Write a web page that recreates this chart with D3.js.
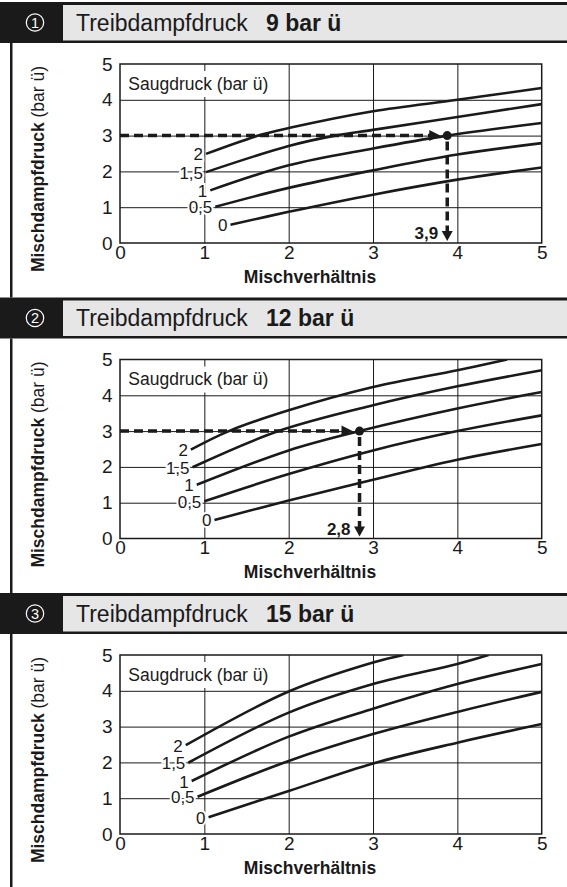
<!DOCTYPE html>
<html>
<head>
<meta charset="utf-8">
<script src="https://cdn.jsdelivr.net/npm/d3@7"></script>
<style>
  body { margin: 0; background: #fff; }
  svg { display: block; font-family: "Liberation Sans", Arial, sans-serif; }
</style>
</head>
<body>
<div id="chart"></div>
<script>
var width = 567,
    height = 887

// data
var xTicks = [0, 1, 2, 3, 4, 5]
var yTicks = [0, 1, 2, 3, 4, 5]
var panelNumbers = ['1', '2', '3']
var motivePressures = ['9 bar ü', '12 bar ü', '15 bar ü']
var suctionLabels = ['2', '1,5', '1', '0,5', '0']

// [Mischverhältnis, Mischdampfdruck] per Saugdruck curve
var curves9 = [
    [[1.02, 2.49], [1.64, 3.0], [2, 3.21], [3, 3.68], [4, 4.0], [5, 4.33]],
    [[1.02, 1.98], [2, 2.71], [2.55, 3.0], [3, 3.16], [4, 3.52], [5, 3.88]],
    [[1.07, 1.47], [2, 2.17], [3, 2.64], [3.88, 3.0], [5, 3.35]],
    [[1.13, 1.01], [2, 1.54], [3, 2.03], [4, 2.47], [5, 2.79]],
    [[1.31, 0.51], [2, 0.87], [3, 1.35], [4, 1.77], [5, 2.11]]
]
var curves12 = [
    [[0.84, 2.48], [1.29, 3.0], [2, 3.58], [3, 4.23], [4, 4.7], [4.59, 5.0]],
    [[0.86, 1.99], [1.88, 3.0], [3, 3.72], [4, 4.25], [5, 4.7]],
    [[0.91, 1.5], [2, 2.46], [2.84, 3.0], [4, 3.63], [5, 4.09]],
    [[1.0, 1.04], [2, 1.8], [3, 2.46], [4, 3.0], [5, 3.44]],
    [[1.12, 0.52], [2, 1.06], [3, 1.64], [4, 2.2], [5, 2.64]]
]
var curves15 = [
    [[0.78, 2.48], [2, 3.98], [3, 4.79], [3.36, 5.0]],
    [[0.81, 1.99], [2, 3.39], [3, 4.19], [4, 4.75], [4.37, 5.0]],
    [[0.85, 1.48], [2, 2.72], [3, 3.5], [4, 4.19], [5, 4.75]],
    [[0.92, 1.04], [2, 2.04], [3, 2.79], [4, 3.41], [5, 3.97]],
    [[1.05, 0.47], [2, 1.2], [3, 1.97], [4, 2.55], [5, 3.07]]
]
var panelCurves = [curves9, curves12, curves15]

// operating point examples (dashed arrows)
var opX = [3.88, 2.84, null]
var opY = [3, 3, null]
var opLabels = ['3,9', '2,8', null]

var svg = d3.select('#chart').append('svg')
    .attr('width', width)
    .attr('height', height)

var plotLeft = 120,
    plotRight = 541.7,
    plotH = 179,
    panelStep = 295.5

var x = d3.scaleLinear().domain([0, 5]).range([plotLeft, plotRight])

var line = d3.line()
    .x(d => x(d[0]))
    .curve(d3.curveCatmullRom.alpha(0.5))

panelNumbers.forEach(function (num, i) {
    var top = 64 + i * panelStep,
        bottom = top + plotH,
        hTop = top - 62

    var y = d3.scaleLinear().domain([0, 5]).range([bottom, top])
    line.y(d => y(d[1]))

    // header bar
    svg.append('rect')
        .attr('x', 0).attr('y', hTop)
        .attr('width', width).attr('height', 41)
        .style('fill', '#1a1a1a')
    svg.append('rect')
        .attr('x', 63).attr('y', hTop + 3)
        .attr('width', width).attr('height', 35.5)
        .style('fill', '#e6e6e6')
    svg.append('circle')
        .attr('cx', 35).attr('cy', top - 41.5).attr('r', 8.7)
        .style('fill', 'none').style('stroke', '#fff').style('stroke-width', 1.2)
    svg.append('text')
        .attr('x', 35).attr('y', top - 41.5).attr('dy', '0.36em')
        .attr('text-anchor', 'middle')
        .style('fill', '#fff').style('font-size', '14.5px')
        .text(num)
    var title = svg.append('text')
        .attr('y', top - 33.5)
        .style('font-size', '23px').style('fill', '#1a1a1a')
    title.append('tspan').attr('x', 76).text('Treibdampfdruck')
    title.append('tspan').attr('x', 266).style('font-weight', 'bold').text(motivePressures[i])

    // left border of the panel body
    var nextTop = i < 2 ? 64 + (i + 1) * panelStep - 62 : height
    svg.append('line')
        .attr('x1', 11.25).attr('x2', 11.25)
        .attr('y1', hTop + 41).attr('y2', nextTop)
        .style('stroke', '#1a1a1a').style('stroke-width', 2.5)

    var g = svg.append('g')

    // grid
    g.append('g')
        .attr('transform', `translate(0, ${bottom})`)
        .call(d3.axisBottom(x).tickValues([1, 2, 3, 4]).tickSize(-plotH).tickFormat(''))
        .call(s => s.select('.domain').remove())
        .selectAll('line').style('stroke', '#1a1a1a').style('stroke-width', 1)
    g.append('g')
        .attr('transform', `translate(${plotLeft}, 0)`)
        .call(d3.axisLeft(y).tickValues([1, 2, 3, 4]).tickSize(-(plotRight - plotLeft)).tickFormat(''))
        .call(s => s.select('.domain').remove())
        .selectAll('line').style('stroke', '#1a1a1a').style('stroke-width', 1)

    g.append('rect')
        .attr('x', plotLeft).attr('y', top)
        .attr('width', plotRight - plotLeft).attr('height', plotH)
        .style('fill', 'none').style('stroke', '#1a1a1a').style('stroke-width', 1.5)

    // tick labels
    var axB = g.append('g')
        .attr('transform', `translate(0, ${bottom})`)
        .call(d3.axisBottom(x).tickValues(xTicks).tickSize(0).tickPadding(2).tickFormat(d3.format('d')))
    var axL = g.append('g')
        .attr('transform', `translate(${plotLeft}, 0)`)
        .call(d3.axisLeft(y).tickValues(yTicks).tickSize(0).tickPadding(7.5).tickFormat(d3.format('d')))
    ;[axB, axL].forEach(function (a) {
        a.select('.domain').remove()
        a.selectAll('text')
            .style('font-size', '19px')
            .style('font-family', '"Liberation Sans", Arial, sans-serif')
            .style('fill', '#1a1a1a')
    })

    // legend box
    g.append('rect')
        .attr('x', plotLeft + 1).attr('y', top + 7)
        .attr('width', 158).attr('height', 26)
        .style('fill', '#fff')
    g.append('text')
        .attr('x', 128.3).attr('y', top + 25.7)
        .style('font-size', '17.5px').style('fill', '#1a1a1a')
        .text('Saugdruck (bar ü)')

    // curves
    var clipId = 'clip' + i
    svg.append('clipPath').attr('id', clipId)
        .append('rect')
        .attr('x', plotLeft).attr('y', top)
        .attr('width', plotRight - plotLeft).attr('height', plotH)

    g.append('g').attr('clip-path', `url(#${clipId})`)
        .selectAll('path')
        .data(panelCurves[i])
        .enter().append('path')
        .attr('d', line)
        .style('fill', 'none')
        .style('stroke', '#1a1a1a')
        .style('stroke-width', 2.6)

    g.selectAll('.clabel')
        .data(panelCurves[i])
        .enter().append('text')
        .attr('class', 'clabel')
        .attr('x', d => x(d[0][0]) - 3)
        .attr('y', d => y(d[0][1]) + 6.5)
        .attr('text-anchor', 'end')
        .style('font-size', '17px')
        .style('fill', '#1a1a1a')
        .style('stroke', '#fff').style('stroke-width', 4)
        .style('paint-order', 'stroke')
        .text((d, k) => suctionLabels[k])

    // operating point
    if (opX[i] !== null) {
        var px = x(opX[i]),
            py = y(opY[i])
        var tipX = px - 7,
            tipY = bottom - 2
        g.append('line')
            .attr('x1', plotLeft).attr('x2', tipX - 10)
            .attr('y1', py).attr('y2', py)
            .style('stroke', '#1a1a1a').style('stroke-width', 3.5)
            .style('stroke-dasharray', '9,5')
        g.append('path')
            .attr('d', `M${tipX},${py} L${tipX - 11},${py - 5.5} L${tipX - 11},${py + 5.5} Z`)
            .style('fill', '#1a1a1a')
        g.append('line')
            .attr('x1', px).attr('x2', px)
            .attr('y1', py + 6).attr('y2', tipY - 9)
            .style('stroke', '#1a1a1a').style('stroke-width', 3.5)
            .style('stroke-dasharray', '9,5')
        g.append('path')
            .attr('d', `M${px},${tipY} L${px - 5.5},${tipY - 10} L${px + 5.5},${tipY - 10} Z`)
            .style('fill', '#1a1a1a')
        g.append('circle')
            .attr('cx', px).attr('cy', py).attr('r', 4.5)
            .style('fill', '#1a1a1a')
        g.append('text')
            .attr('x', px - 9).attr('y', bottom - 4)
            .attr('text-anchor', 'end')
            .style('font-size', '17px').style('font-weight', 'bold')
            .style('fill', '#1a1a1a')
            .text(opLabels[i])
    }

    // axis titles
    g.append('text')
        .attr('x', 310).attr('y', bottom + 39.7)
        .attr('text-anchor', 'middle')
        .style('font-size', '17.5px').style('font-weight', 'bold')
        .style('fill', '#1a1a1a')
        .text('Mischverhältnis')
    var yt = g.append('text')
        .attr('transform', `translate(43.5, ${top + 105}) rotate(-90)`)
        .attr('text-anchor', 'middle')
        .style('font-size', '17.5px')
        .style('fill', '#1a1a1a')
    yt.append('tspan').style('font-weight', 'bold').text('Mischdampfdruck')
    yt.append('tspan').text(' (bar ü)')
})
</script>
</body>
</html>
